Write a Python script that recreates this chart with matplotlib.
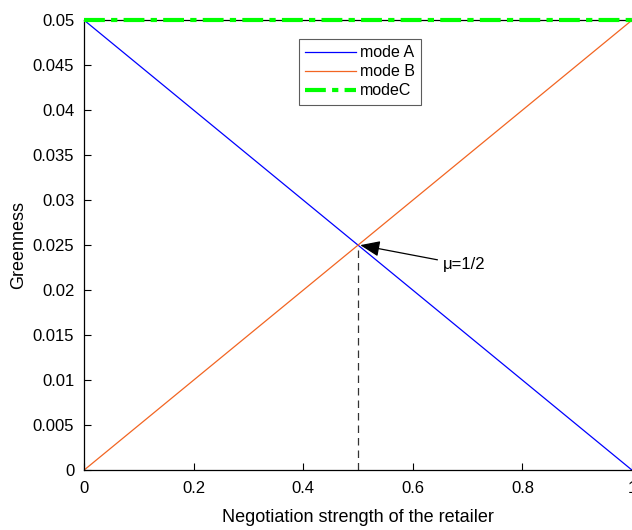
import numpy as np
import matplotlib.pyplot as plt

plt.rcParams['font.family'] = ['Liberation Sans', 'DejaVu Sans']

# datos
mu = [0, 1]
modo_a = [0.05, 0]
modo_b = [0, 0.05]
modo_c = [0.05, 0.05]
mu_cruce = 0.5
g_cruce = 0.025

fig = plt.figure(figsize=(6.32, 5.30), dpi=100)
ax = fig.add_axes([0.133, 0.113, 0.867, 0.849])

ax.plot(mu, modo_a, color='#0000ff', lw=0.9, label='mode A')
ax.plot(mu, modo_b, color='#f26522', lw=0.9, label='mode B')
ax.plot(mu, modo_c, color='#00ff00', lw=3, ls=(0, (5, 1.5, 1.5, 1.5)), label='modeC',
        clip_on=False, zorder=5)
ax.plot([mu_cruce, mu_cruce], [0, g_cruce], color='#333333', lw=0.9, ls=(0, (6, 4)))

ax.annotate('μ=1/2', xy=(mu_cruce + 0.004, g_cruce), xytext=(0.655, 0.0228),
            fontsize=12, va='center',
            arrowprops=dict(arrowstyle='-|>,head_length=1.0,head_width=0.4',
                            color='black', lw=0.9, shrinkA=2, shrinkB=0))

ax.set_xlim(0, 1)
ax.set_ylim(0, 0.05)
ax.set_xticks([0, 0.2, 0.4, 0.6, 0.8, 1])
ax.set_xticklabels(['0', '0.2', '0.4', '0.6', '0.8', '1'])
ax.set_yticks(np.arange(0, 0.0501, 0.005))
ax.set_yticklabels(['0', '0.005', '0.01', '0.015', '0.02', '0.025',
                    '0.03', '0.035', '0.04', '0.045', '0.05'])
ax.tick_params(direction='in', labelsize=12, length=5, width=0.8)
ax.tick_params(axis='x', pad=8)
ax.tick_params(axis='y', pad=7)
ax.spines['right'].set_visible(False)
for s in ['left', 'bottom', 'top']:
    ax.spines[s].set_linewidth(0.9)

ax.set_xlabel('Negotiation strength of the retailer', fontsize=13, labelpad=9)
ax.set_ylabel('Greenness', fontsize=13, labelpad=4)

leg = ax.legend(loc='upper left', bbox_to_anchor=(0.392, 0.958), fontsize=11.5,
                fancybox=False, edgecolor='#333333', handlelength=3.2,
                borderpad=0.4, labelspacing=0.25, handletextpad=0.2,
                borderaxespad=0)
leg.get_frame().set_linewidth(0.8)

fig.savefig('out.png', dpi=100)
